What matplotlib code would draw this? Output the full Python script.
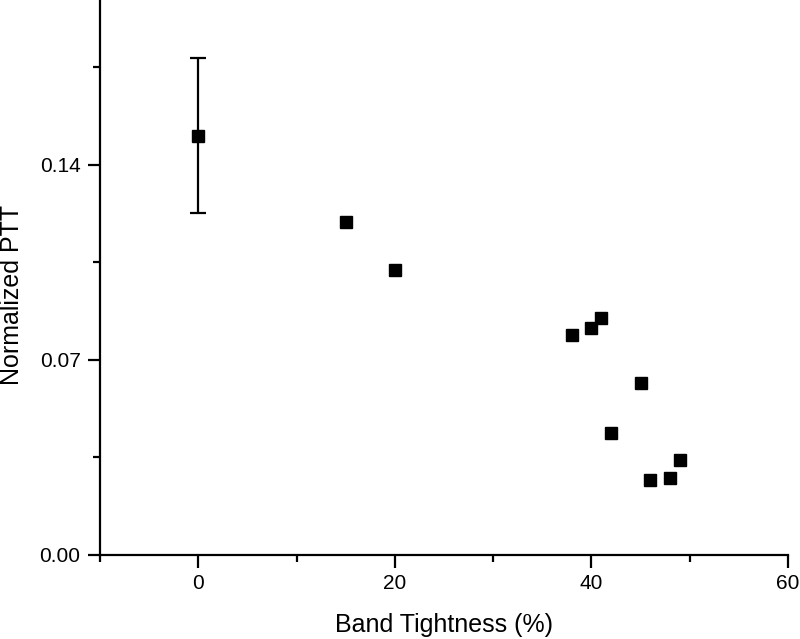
import numpy as np
import matplotlib
matplotlib.use('Agg')
import matplotlib.pyplot as plt
from matplotlib.ticker import MultipleLocator

plt.rcParams['font.family'] = ['Liberation Sans', 'DejaVu Sans']

tightness = [0, 15, 20, 38, 40, 41, 45, 42, 46, 48, 49]
ptt = [0.1504, 0.1195, 0.1023, 0.0790, 0.0815, 0.0851, 0.0617, 0.0438, 0.0269, 0.0276, 0.0341]
ptt_err = [0.0278, 0, 0, 0, 0, 0, 0, 0, 0, 0, 0]

fig = plt.figure(figsize=(8, 6.39), dpi=100)
ax = fig.add_axes([0.125, 0.1315, 0.86, 0.8685])

ax.errorbar(tightness[:1], ptt[:1], yerr=ptt_err[:1], fmt='none', ecolor='black',
            elinewidth=1.6, capsize=6, capthick=1.6)
ax.plot(tightness, ptt, 's', color='black', markersize=8.5)

ax.set_xlim(-10, 60)
ax.set_ylim(0, 0.199)
ax.xaxis.set_major_locator(MultipleLocator(20))
ax.xaxis.set_minor_locator(MultipleLocator(10))
ax.set_yticks([0.0, 0.07, 0.14])
ax.set_yticklabels(['0.00', '0.07', '0.14'])
ax.yaxis.set_minor_locator(MultipleLocator(0.035))

for s in ['top', 'right']:
    ax.spines[s].set_visible(False)
for s in ['left', 'bottom']:
    ax.spines[s].set_linewidth(1.6)
ax.tick_params(which='major', direction='out', length=9, width=1.6, labelsize=15, pad=5)
ax.tick_params(which='minor', direction='out', length=5, width=1.6)

ax.set_xlabel('Band Tightness (%)', fontsize=18, labelpad=14)
ax.set_ylabel('Normalized PTT', fontsize=18)
ax.yaxis.set_label_coords(-0.110, 0.468)

fig.savefig('out.png', dpi=100)
